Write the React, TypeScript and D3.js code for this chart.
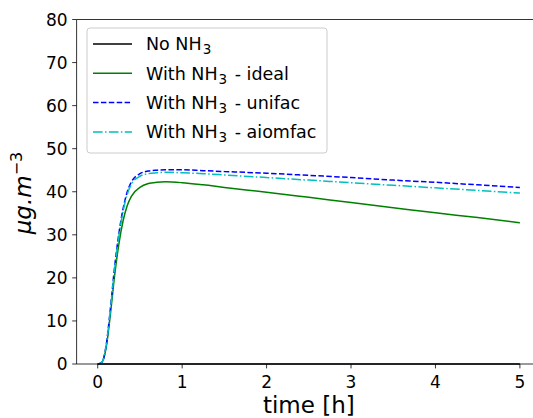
import React from "react";
import * as d3 from "d3";

const times = [0, 0.05, 0.1, 0.15, 0.2, 0.25, 0.3, 0.35, 0.4, 0.5, 0.6, 0.7, 0.8, 1.0, 1.25, 1.5, 2, 2.5, 3, 3.5, 4, 4.5, 5];
const noNH3 = times.map(() => 0);
const ideal = [0, 0.4, 3.8, 11.5, 20.5, 27.8, 33.2, 36.8, 39.0, 41.0, 41.9, 42.2, 42.3, 42.1, 41.6, 41.0, 39.9, 38.7, 37.5, 36.3, 35.1, 34.0, 32.8];
const unifac = [0, 0.4, 4.3, 12.8, 22.5, 30.2, 36.0, 40.0, 42.3, 44.2, 44.8, 45.0, 45.1, 45.1, 44.9, 44.7, 44.3, 43.8, 43.3, 42.7, 42.2, 41.6, 41.0];
const aiomfac = [0, 0.4, 4.2, 12.5, 22.0, 29.6, 35.4, 39.4, 41.8, 43.6, 44.2, 44.4, 44.5, 44.4, 44.2, 43.9, 43.3, 42.7, 42.1, 41.5, 40.9, 40.3, 39.7];
const xTicks = [0, 1, 2, 3, 4, 5];
const yTicks = [0, 10, 20, 30, 40, 50, 60, 70, 80];

const series = [
  { name: "No NH", suffix: "", values: noNH3, color: "#000000", dash: "" },
  { name: "With NH", suffix: " - ideal", values: ideal, color: "#008000", dash: "" },
  { name: "With NH", suffix: " - unifac", values: unifac, color: "#0000ff", dash: "5.5,2.4" },
  { name: "With NH", suffix: " - aiomfac", values: aiomfac, color: "#00bfbf", dash: "9.6,2.4,1.5,2.4" },
];

export default function App() {
  const W = 533, H = 418;
  const left = 76.6, right = 541, top = 19.5, bottom = 364;
  const x = d3.scaleLinear().domain([-0.25, 5.25]).range([left, right]);
  const y = d3.scaleLinear().domain([0, 80]).range([bottom, top]);
  const line = d3.line<number>().x((_, i) => x(times[i])).y((v) => y(v)).curve(d3.curveMonotoneX);
  const font = "DejaVu Sans";
  const order = [1, 2, 3, 0];
  const ts = { fontFamily: font };
  return (
    <svg width={W} height={H} style={{ position: "absolute", left: 0, top: 0, background: "#fff", fontFamily: font }}>
      <defs>
        <clipPath id="clip"><rect x={left} y={top - 2} width={right - left} height={bottom - top + 4} /></clipPath>
      </defs>
      <g clipPath="url(#clip)">
        {order.map((k) => (
          <path key={k} d={line(series[k].values) || ""} fill="none" stroke={series[k].color} strokeWidth={1.5} strokeDasharray={series[k].dash} />
        ))}
      </g>
      <line x1={left} x2={left} y1={top} y2={bottom} stroke="#000" strokeWidth={0.8} />
      <line x1={left} x2={right} y1={bottom} y2={bottom} stroke="#000" strokeWidth={0.8} />
      <line x1={left} x2={right} y1={top} y2={top} stroke="#000" strokeWidth={0.8} />
      <line x1={right} x2={right} y1={top} y2={bottom} stroke="#000" strokeWidth={0.8} />
      {xTicks.map((t) => (
        <g key={t}>
          <line x1={x(t)} x2={x(t)} y1={bottom} y2={bottom + 4.4} stroke="#000" strokeWidth={0.8} />
          <text style={ts} x={x(t)} y={bottom + 23.5} textAnchor="middle" fontSize={17}>{t}</text>
        </g>
      ))}
      {yTicks.map((t) => (
        <g key={t}>
          <line x1={left - 4.4} x2={left} y1={y(t)} y2={y(t)} stroke="#000" strokeWidth={0.8} />
          <text style={ts} x={left - 9} y={y(t) + 6.2} textAnchor="end" fontSize={17}>{t}</text>
        </g>
      ))}
      <text style={ts} x={(left + right) / 2} y={413} textAnchor="middle" fontSize={23}>time [h]</text>
      <text style={ts} transform={`translate(31, 193) rotate(-90)`} textAnchor="middle" fontSize={23} fontStyle="italic">
        μg.m<tspan dy={-9} fontSize={16} fontStyle="normal">−3</tspan>
      </text>
      <rect x={87} y={28} width={240} height={125} rx={3} fill="#fff" fillOpacity={0.8} stroke="#cccccc" strokeWidth={1} />
      {series.map((s, i) => {
        const cy = 44 + i * 29.3;
        return (
          <g key={i}>
            <line x1={93} x2={132} y1={cy} y2={cy} stroke={s.color} strokeWidth={1.5} strokeDasharray={s.dash} />
            <text style={ts} x={146} y={cy + 6.3} fontSize={17.5}>
              {s.name}<tspan dy={4} dx={1} fontSize={13.5}>3</tspan><tspan dy={-4} dx={2}>{s.suffix}</tspan>
            </text>
          </g>
        );
      })}
    </svg>
  );
}
